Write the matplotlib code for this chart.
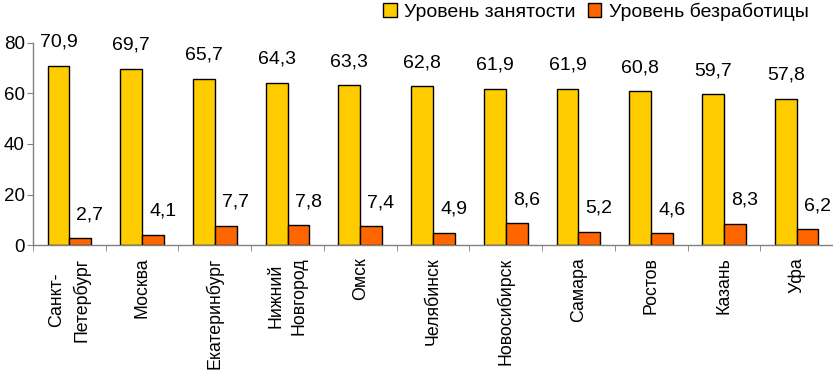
import matplotlib
matplotlib.use("Agg")
import matplotlib.pyplot as plt
import numpy as np
from matplotlib.patches import Patch

plt.rcParams["font.family"] = ["Liberation Sans", "DejaVu Sans"]

cities = ["Санкт-\nПетербург", "Москва", "Екатеринбург", "Нижний\nНовгород", "Омск",
          "Челябинск", "Новосибирск", "Самара", "Ростов", "Казань", "Уфа"]
employment = [70.9, 69.7, 65.7, 64.3, 63.3, 62.8, 61.9, 61.9, 60.8, 59.7, 57.8]
unemployment = [2.7, 4.1, 7.7, 7.8, 7.4, 4.9, 8.6, 5.2, 4.6, 8.3, 6.2]
series_names = ["Уровень занятости", "Уровень безработицы"]
yticks = [0, 20, 40, 60, 80]

YELLOW = "#FFCC00"
ORANGE = "#FF6600"
GRAY = "#808080"

fig = plt.figure(figsize=(8.33, 3.72), dpi=100)
ax = fig.add_axes([33 / 833, 1 - 245 / 372, 800 / 833, (245 - 43) / 372])

x = np.arange(len(cities))
w = 0.3
ax.bar(x - w / 2, employment, w, color=YELLOW, edgecolor="black", linewidth=1.0)
ax.bar(x + w / 2, unemployment, w, color=ORANGE, edgecolor="black", linewidth=1.0)

for xi, v in zip(x, employment):
    ax.annotate(f"{v:.1f}".replace(".", ","), (xi - w / 2, v), xytext=(0, 17),
                textcoords="offset points", ha="center", va="center",
                fontsize=14, annotation_clip=False)
for xi, v in zip(x, unemployment):
    ax.annotate(f"{v:.1f}".replace(".", ","), (xi + w / 2, v), xytext=(7, 17),
                textcoords="offset points", ha="center", va="center",
                fontsize=14, annotation_clip=False)

ax.set_xlim(-0.5, len(cities) - 0.5)
ax.set_ylim(0, 80)
ax.set_yticks(yticks)
ax.tick_params(axis="y", labelsize=13.5, length=4, color=GRAY, pad=2)

ax.set_xticks(x)
ax.set_xticklabels(cities, rotation=90, fontsize=12.8, linespacing=1.5)
ax.tick_params(axis="x", which="major", length=0, pad=9)
ax.set_xticks(np.arange(-0.5, len(cities), 1), minor=True)
ax.tick_params(axis="x", which="minor", length=4, color=GRAY)

for s in ["top", "right"]:
    ax.spines[s].set_visible(False)
for s in ["left", "bottom"]:
    ax.spines[s].set_color(GRAY)
    ax.spines[s].set_linewidth(1.0)

handles = [Patch(facecolor=YELLOW, edgecolor="black", label=series_names[0]),
           Patch(facecolor=ORANGE, edgecolor="black", label=series_names[1])]
fig.legend(handles=handles, loc="upper right", bbox_to_anchor=(0.985, 1.025), ncol=2,
           frameon=False, fontsize=14, handlelength=0.7, handleheight=0.7,
           handletextpad=0.4, columnspacing=0.6, borderaxespad=0.2)

fig.savefig("out.png", dpi=100)
